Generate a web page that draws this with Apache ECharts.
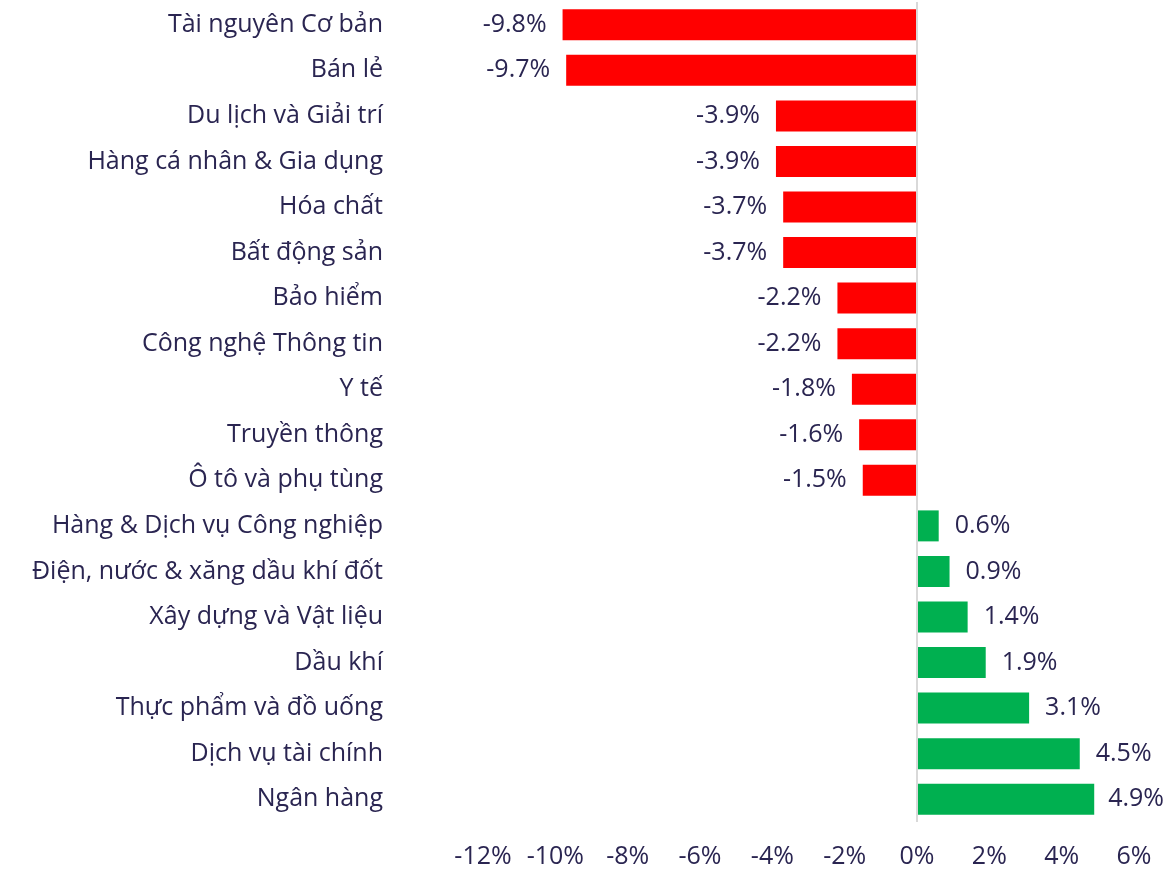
<!DOCTYPE html>
<html>
<head>
<meta charset="utf-8">
<script src="https://cdn.jsdelivr.net/npm/echarts@6/dist/echarts.min.js"></script>
<style>
  html, body { margin: 0; padding: 0; background: #fff; }
  #main { width: 1166px; height: 872px; }
</style>
</head>
<body>
<div id="main"></div>
<script>
  // ngành
  var categories = [
    'Tài nguyên Cơ bản', 'Bán lẻ', 'Du lịch và Giải trí', 'Hàng cá nhân & Gia dụng',
    'Hóa chất', 'Bất động sản', 'Bảo hiểm', 'Công nghệ Thông tin', 'Y tế',
    'Truyền thông', 'Ô tô và phụ tùng', 'Hàng & Dịch vụ Công nghiệp',
    'Điện, nước & xăng dầu khí đốt', 'Xây dựng và Vật liệu', 'Dầu khí',
    'Thực phẩm và đồ uống', 'Dịch vụ tài chính', 'Ngân hàng'
  ];
  // % thay đổi
  var values = [-9.8, -9.7, -3.9, -3.9, -3.7, -3.7, -2.2, -2.2, -1.8, -1.6, -1.5,
    0.6, 0.9, 1.4, 1.9, 3.1, 4.5, 4.9];
  var xTicks = [-12, -10, -8, -6, -4, -2, 0, 2, 4, 6];

  var textColor = '#2a2551';
  var font = 'Open Sans';
  var fontSize = 25;

  var myChart = echarts.init(document.getElementById('main'));

  var data = values.map(function (v) {
    return {
      value: v,
      itemStyle: { color: v < 0 ? '#ff0000' : '#00b050' },
      label: { position: v < 0 ? 'left' : 'right' }
    };
  });

  var option = {
    animation: false,
    grid: { left: 483, right: 32, top: 2, bottom: 50, containLabel: false },
    xAxis: {
      type: 'value',
      min: xTicks[0],
      max: xTicks[xTicks.length - 1],
      interval: 2,
      axisLine: { show: false },
      axisTick: { show: false },
      splitLine: { show: false },
      axisLabel: {
        formatter: '{value}%',
        color: textColor,
        fontFamily: font,
        fontSize: fontSize,
        margin: 22
      }
    },
    yAxis: {
      type: 'category',
      inverse: true,
      data: categories,
      axisLine: { show: false },
      axisTick: { show: false },
      axisLabel: {
        color: textColor,
        fontFamily: font,
        fontSize: fontSize,
        margin: 100
      }
    },
    series: [{
      type: 'bar',
      data: data,
      barWidth: '68%',
      label: {
        show: true,
        distance: 16,
        color: textColor,
        fontFamily: font,
        fontSize: fontSize,
        formatter: function (p) { return p.value.toFixed(1) + '%'; }
      },
      // nhãn tràn mép phải thì kéo vào trong
      labelLayout: function (p) {
        var r = p.labelRect;
        if (r.x + r.width > 1164) {
          return {
            x: 1164 - r.width,
            y: r.y + r.height / 2,
            align: 'left',
            verticalAlign: 'middle'
          };
        }
      },
      markLine: {
        silent: true,
        symbol: 'none',
        label: { show: false },
        lineStyle: { color: '#d9d9d9', width: 2, type: 'solid' },
        data: [{ xAxis: 0 }]
      }
    }]
  };

  myChart.setOption(option);
</script>
</body>
</html>
